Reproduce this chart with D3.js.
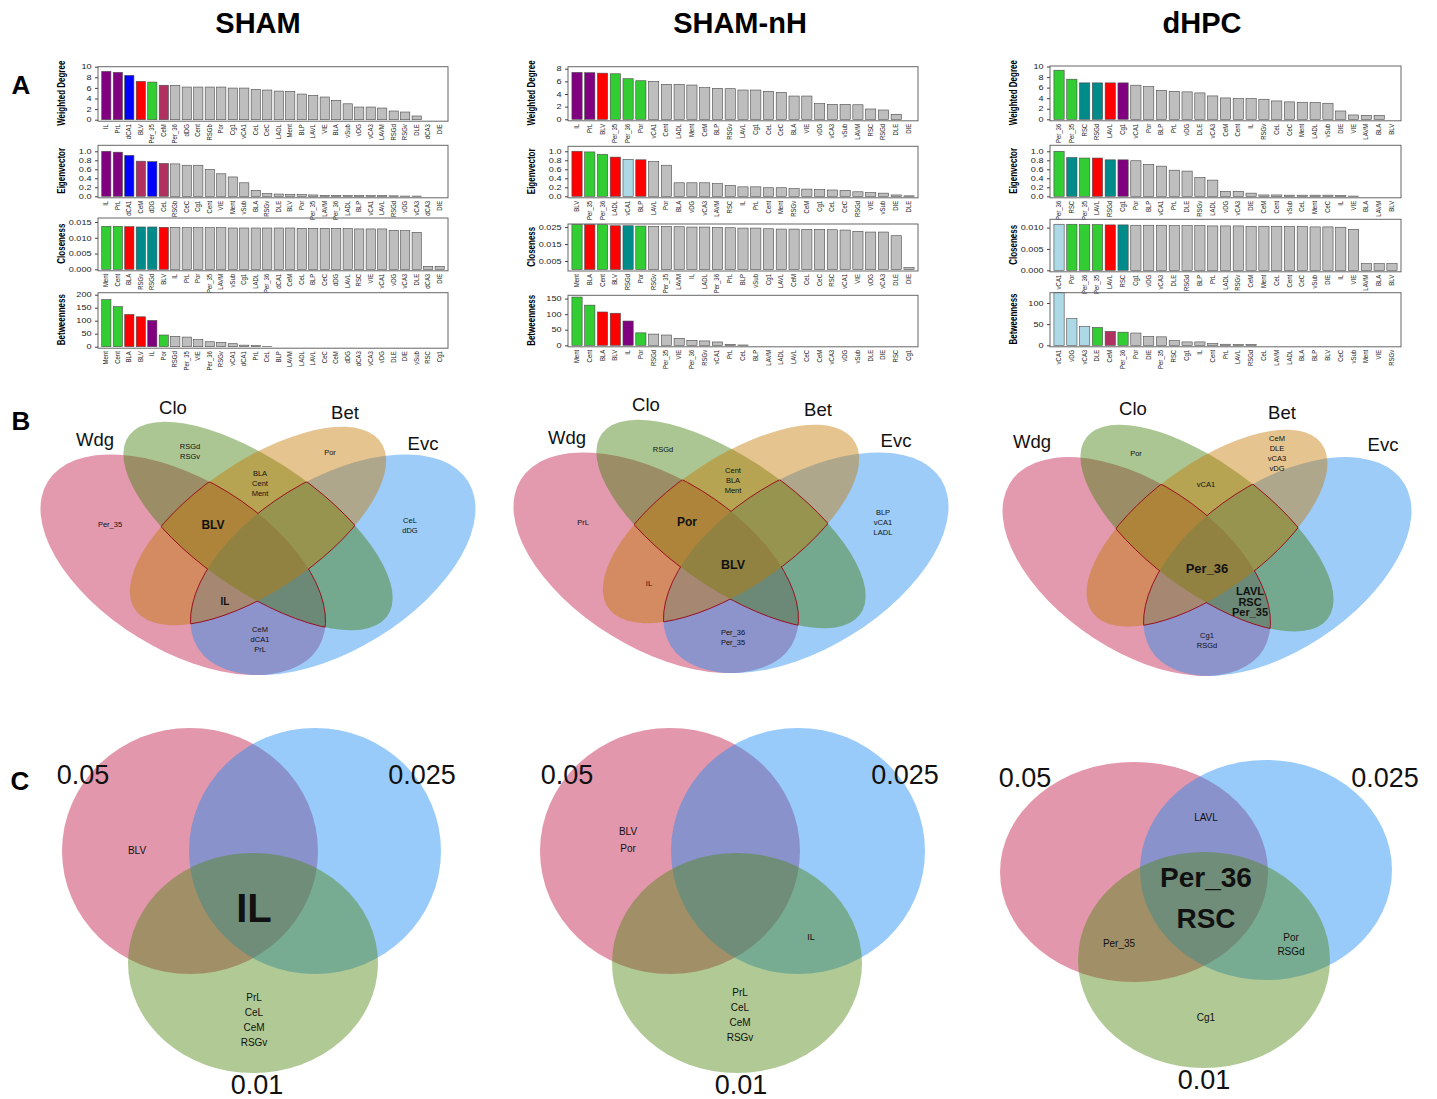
<!DOCTYPE html>
<html>
<head>
<meta charset="utf-8">
<script src="https://cdn.jsdelivr.net/npm/d3@7/dist/d3.min.js"></script>
<style>
  body { margin: 0; background: #fff; }
  svg { display: block; }
  text { font-family: "Liberation Sans", Arial, Helvetica, sans-serif; }
</style>
</head>
<body>
<svg id="figure"></svg>
<script>
// ---------- data: panel A bar charts ----------
// group codes: P purple, B blue, R red, G green, M maroon, T teal, L light blue (rest grey)
const shamWdLabels = ["IL","PrL","dCA1","BLV","Per_35","CeM","Per_36","dDG","Cent","RSGb","Por","Cg1","vCA1","CeL","CeC","LADL","Ment","BLP","LAVL","VIE","BLA","vSub","vDG","vCA3","LAVM","RSGd","RSGv","DLE","dCA3","DIE"];
const shamWdValues = [9.12,8.93,8.36,7.23,7.1,6.5,6.48,6.16,6.16,6.16,6.16,5.97,5.97,5.72,5.6,5.4,5.35,4.84,4.6,4.28,3.65,3.0,2.39,2.39,2.2,1.64,1.45,0.7,0,0];
const shamWdGroups = ["P","P","B","R","G","M"];

const shamEvLabels = ["IL","PrL","dCA1","CeM","dDG","CeL","RSGb","CeC","Cg1","Cent","VIE","Ment","vSub","BLA","RSGv","DLE","BLV","Por","Per_35","LAVM","Per_36","LADL","BLP","vCA1","LAVL","RSGd","vDG","vCA3","dCA3","DIE"];
const shamEvValues = [1.0,0.98,0.91,0.78,0.77,0.73,0.72,0.69,0.69,0.6,0.5,0.43,0.3,0.13,0.06,0.05,0.045,0.04,0.03,0.02,0.02,0.015,0.015,0.015,0.015,0.01,0.005,0.005,0,0];
const shamEvGroups = ["P","P","B","M","B","M"];

const shamClLabels = ["Ment","Cent","BLA","RSGv","RSGd","BLV","IL","PrL","Por","Per_35","LAVM","vSub","Cg1","LADL","Per_36","dCA1","CeM","CeL","BLP","CeC","dDG","LAVL","RSC","VIE","vCA1","vDG","vCA3","DLE","dCA3","DIE"];
const shamClValues = [0.01363,0.01363,0.01352,0.01342,0.01342,0.01331,0.01331,0.0132,0.0132,0.0132,0.0132,0.0131,0.0131,0.0131,0.0131,0.0131,0.0131,0.013,0.013,0.013,0.013,0.0129,0.0128,0.0128,0.0128,0.01236,0.01225,0.01173,0.00095,0.00095];
const shamClGroups = ["G","G","R","T","T","R"];

const shamBtLabels = ["Ment","Cent","BLA","BLV","IL","Por","RSGd","Per_35","VIE","Per_36","RSGv","vCA1","dCA1","PrL","CeL","BLP","LAVM","LADL","LAVL","CeC","CeM","dDG","dCA3","vCA3","vDG","DLE","DIE","vSub","RSC","Cg1"];
const shamBtValues = [181,154,124,115,101,45,40,37,27,19,17,11.5,6,4,1,0,0,0,0,0,0,0,0,0,0,0,0,0,0,0];
const shamBtGroups = ["G","G","R","R","P","G"];

const nhWdLabels = ["IL","PrL","BLV","Per_35","Per_36","Por","vCA1","Cent","LADL","Ment","CeM","BLP","RSGv","LAVL","Cg1","CeL","CeC","BLA","VIE","vDG","vCA3","vSub","LAVM","RSC","RSGd","DLE","DIE"];
const nhWdValues = [7.42,7.37,7.3,7.2,6.42,6.1,6.0,5.53,5.53,5.42,5.0,4.9,4.84,4.63,4.63,4.42,4.26,3.68,3.68,2.47,2.37,2.37,2.3,1.63,1.47,0.79,0];
const nhWdGroups = ["P","P","R","G","G","G"];

const nhEvLabels = ["BLV","Per_35","Per_36","LADL","vCA1","BLP","LAVL","Por","BLA","vDG","vCA3","LAVM","RSC","IL","PrL","Cent","Ment","RSGv","CeM","Cg1","CeL","CeC","RSGd","VIE","vSub","DIE","DLE"];
const nhEvValues = [1.0,0.985,0.93,0.87,0.82,0.81,0.77,0.69,0.3,0.3,0.3,0.28,0.24,0.21,0.21,0.19,0.19,0.17,0.16,0.15,0.14,0.13,0.1,0.08,0.07,0.03,0.01];
const nhEvGroups = ["R","G","G","R","L","R"];

const nhClLabels = ["Ment","BLA","Cent","BLV","RSGd","Por","RSGv","Per_35","LAVM","IL","LADL","Per_36","PrL","BLP","vSub","Cg1","LAVL","CeM","CeL","CeC","RSC","vCA1","VIE","vDG","vCA3","DLE","DIE"];
const nhClValues = [0.02657,0.02657,0.02637,0.02578,0.02578,0.02559,0.02539,0.02539,0.0252,0.025,0.025,0.0248,0.0246,0.0244,0.0244,0.024,0.0238,0.0238,0.02363,0.02363,0.02343,0.02323,0.02245,0.02206,0.02206,0.0199,0.0011];
const nhClGroups = ["G","R","G","R","T","G"];

const nhBtLabels = ["Ment","Cent","BLA","BLV","IL","Por","RSGd","Per_35","VIE","Per_36","RSGv","vCA1","PrL","CeL","BLP","LAVM","LADL","LAVL","CeC","CeM","vCA3","vDG","vSub","DLE","DIE","RSC","Cg1"];
const nhBtValues = [155,129,107,103,78,40,36,33,22.5,16,14,10.7,3,1,0,0,0,0,0,0,0,0,0,0,0,0,0];
const nhBtGroups = ["G","G","R","R","P","G"];

const dhWdLabels = ["Per_36","Per_35","RSC","RSGd","LAVL","Cg1","vCA1","Por","BLP","PrL","vDG","DLE","vCA3","CeM","Cent","IL","RSGv","CeL","CeC","Ment","LADL","vSub","DIE","VIE","LAVM","BLA","BLV"];
const dhWdValues = [9.3,7.6,6.9,6.9,6.9,6.9,6.46,6.2,5.5,5.3,5.2,5.0,4.43,4.05,3.92,3.92,3.8,3.48,3.3,3.23,3.16,3.04,1.58,0.82,0.76,0.76,0];
const dhWdGroups = ["G","G","T","T","R","P"];

const dhEvLabels = ["Per_36","RSC","Per_35","LAVL","RSGd","Cg1","Por","BLP","vCA1","PrL","DLE","RSGv","LADL","vDG","vCA3","DIE","CeM","Cent","vSub","CeL","Ment","CeC","IL","VIE","BLA","LAVM","BLV"];
const dhEvValues = [1.0,0.86,0.85,0.85,0.81,0.81,0.79,0.71,0.67,0.58,0.56,0.42,0.36,0.11,0.11,0.07,0.03,0.03,0.025,0.025,0.025,0.025,0.02,0.005,0,0,0];
const dhEvGroups = ["G","T","G","R","T","P"];

const dhClLabels = ["vCA1","Por","Per_36","Per_35","LAVL","RSC","Cg1","vDG","vCA3","DLE","RSGd","BLP","PrL","LADL","RSGv","CeM","Ment","CeL","Cent","CeC","vSub","DIE","IL","VIE","LAVM","BLA","BLV"];
const dhClValues = [0.01078,0.01078,0.0107,0.0107,0.01063,0.01063,0.01055,0.01055,0.01055,0.01047,0.01047,0.01047,0.01039,0.01039,0.01039,0.01031,0.01031,0.01031,0.01023,0.01023,0.01016,0.01016,0.01008,0.0096,0.00156,0.00156,0.00156];
const dhClGroups = ["L","G","G","G","R","T"];

const dhBtLabels = ["vCA1","vDG","vCA3","DLE","CeM","Per_36","Por","DIE","Per_35","RSC","Cg1","IL","Cent","PrL","LAVL","RSGd","CeL","LAVM","LADL","BLA","BLP","BLV","CeC","vSub","Ment","VIE","RSGv"];
const dhBtValues = [126,63,45,42,33,31,29,21,20,11,8,8,4,2.5,2,2,0,0,0,0,0,0,0,0,0,0,0];
const dhBtGroups = ["L","L","L","G","M","G"];

// ---------- data: panel B (4-set Venn) and C (3-set Venn) ----------
const groupTitles = ["SHAM","SHAM-nH","dHPC"];
const quadSets = ["Wdg","Clo","Bet","Evc"];
const shamQuadText = [["RSGd","RSGv"],["Por"],["BLA","Cent","Ment"],["Per_35"],["CeL","dDG"],["BLV"],["IL"],["CeM","dCA1","PrL"]];
const nhQuadText = [["RSGd"],["Cent","BLA","Ment"],["PrL"],["BLP","vCA1","LADL"],["Por"],["BLV"],["IL"],["Per_36","Per_35"]];
const dhQuadText = [["Por"],["CeM","DLE","vCA3","vDG"],["vCA1"],["Per_36"],["LAVL","RSC","Per_35"],["Cg1","RSGd"]];
const tripleSets = ["0.05","0.025","0.01"];
const shamTripleText = [["BLV"],["IL"],["PrL","CeL","CeM","RSGv"]];
const nhTripleText = [["BLV","Por"],["IL"],["PrL","CeL","CeM","RSGv"]];
const dhTripleText = [["LAVL"],["Per_36","RSC"],["Per_35"],["Por","RSGd"],["Cg1"]];

// ---------- layout & style ----------
const W = 1437, H = 1099;
const groupColor = {P:"#800080", B:"#0000ff", R:"#ff0000", G:"#32cd32", M:"#b03060", T:"#008b8b", L:"#add8e6"};
const greyBar = "#bebebe";
const cols = [{x0:98, x1:448, cx:258}, {x0:568, x1:918, cx:740}, {x0:1050, x1:1401, cx:1202}];
const rowTitles = ["Weighted Degree","Eigenvector","Closeness","Betweenness"];
const fInt = d3.format("d"), f1 = d3.format(".1f"), f3 = d3.format(".3f");

const charts = [
  {c:0,r:0,l:shamWdLabels,v:shamWdValues,g:shamWdGroups,top:66.7,base:119.7,ymax:10,ticks:[0,2,4,6,8,10],fmt:fInt},
  {c:0,r:1,l:shamEvLabels,v:shamEvValues,g:shamEvGroups,top:145.3,base:196.3,ymax:1.133,ticks:[0,.2,.4,.6,.8,1],fmt:f1},
  {c:0,r:2,l:shamClLabels,v:shamClValues,g:shamClGroups,top:218,base:269.3,ymax:0.01627,ticks:[0,.005,.01,.015],fmt:f3},
  {c:0,r:3,l:shamBtLabels,v:shamBtValues,g:shamBtGroups,top:292.7,base:346.7,ymax:207.7,ticks:[0,50,100,150,200],fmt:fInt},
  {c:1,r:0,l:nhWdLabels,v:nhWdValues,g:nhWdGroups,top:66.7,base:119.3,ymax:8.32,ticks:[0,2,4,6,8],fmt:fInt},
  {c:1,r:1,l:nhEvLabels,v:nhEvValues,g:nhEvGroups,top:146.3,base:196.3,ymax:1.11,ticks:[0,.2,.4,.6,.8,1],fmt:f1},
  {c:1,r:2,l:nhClLabels,v:nhClValues,g:nhClGroups,top:224,base:269.5,ymax:0.0268,ticks:[.005,.015,.025],fmt:f3},
  {c:1,r:3,l:nhBtLabels,v:nhBtValues,g:nhBtGroups,top:295.3,base:345.3,ymax:160.6,ticks:[0,50,100,150],fmt:fInt},
  {c:2,r:0,l:dhWdLabels,v:dhWdValues,g:dhWdGroups,top:66,base:119.3,ymax:10.1,ticks:[0,2,4,6,8,10],fmt:fInt},
  {c:2,r:1,l:dhEvLabels,v:dhEvValues,g:dhEvGroups,top:145.3,base:196.3,ymax:1.133,ticks:[0,.2,.4,.6,.8,1],fmt:f1},
  {c:2,r:2,l:dhClLabels,v:dhClValues,g:dhClGroups,top:219.3,base:270.3,ymax:0.01194,ticks:[0,.005,.01],fmt:f3},
  {c:2,r:3,l:dhBtLabels,v:dhBtValues,g:dhBtGroups,top:292.7,base:345.3,ymax:124.3,ticks:[0,50,100],fmt:fInt}
];

const svg = d3.select("#figure").attr("width", W).attr("height", H)
  .attr("viewBox", `0 0 ${W} ${H}`);
svg.append("rect").attr("width", W).attr("height", H).attr("fill", "#fff");
const defs = svg.append("defs");

// titles and panel letters
groupTitles.forEach((t, i) => {
  svg.append("text").attr("x", cols[i].cx).attr("y", 33).attr("text-anchor", "middle")
    .style("font-size", "29px").style("font-weight", "bold").text(t);
});
[["A", 21, 94], ["B", 21, 430], ["C", 20, 790]].forEach(([t, x, y]) => {
  svg.append("text").attr("x", x).attr("y", y).attr("text-anchor", "middle")
    .style("font-size", "26px").style("font-weight", "bold").text(t);
});

// ---------- panel A ----------
charts.forEach(ch => {
  const col = cols[ch.c];
  const g = svg.append("g");
  const x = d3.scaleBand().domain(d3.range(ch.l.length))
    .range([col.x0 + 2, col.x1 - 2]).paddingInner(0.2).paddingOuter(0.15);
  const y = d3.scaleLinear().domain([0, ch.ymax]).range([ch.base, ch.top]).clamp(true);
  const boxBottom = ch.base + 1.5;

  g.selectAll("rect.bar").data(ch.v).join("rect").attr("class", "bar")
    .attr("x", (d, i) => x(i)).attr("width", x.bandwidth())
    .attr("y", d => y(d)).attr("height", d => Math.max(0, ch.base - y(d)))
    .attr("fill", (d, i) => ch.g[i] ? groupColor[ch.g[i]] : greyBar)
    .attr("stroke", "#4a4a4a").attr("stroke-width", 0.6);

  g.append("rect").attr("x", col.x0).attr("y", ch.top)
    .attr("width", col.x1 - col.x0).attr("height", boxBottom - ch.top)
    .attr("fill", "none").attr("stroke", "#666").attr("stroke-width", 1);

  const ax = g.append("g").attr("transform", `translate(${col.x0},0)`)
    .call(d3.axisLeft(y).tickValues(ch.ticks).tickFormat(ch.fmt).tickSize(3).tickPadding(2));
  ax.select(".domain").remove();
  ax.selectAll("line").attr("stroke", "#444");
  ax.selectAll("text").style("font-size", "7px").attr("fill", "#222")
    .attr("transform", "scale(1.3,1)");

  g.selectAll("text.xl").data(ch.l).join("text").attr("class", "xl")
    .attr("transform", (d, i) => `translate(${x(i) + x.bandwidth() / 2 + 2},${boxBottom + 3}) rotate(-90) scale(1,1.3)`)
    .attr("text-anchor", "end").style("font-size", "6px").attr("fill", "#222").text(d => d);

  g.append("text")
    .attr("transform", `translate(${col.x0 - 33},${(ch.top + ch.base) / 2}) rotate(-90) scale(1,1.35)`)
    .attr("text-anchor", "middle").style("font-size", "8px").style("font-weight", "bold")
    .text(rowTitles[ch.r]);
});

// ---------- panel B: four-set ellipse Venn ----------
const quadEllipses = [ // unit coords (y up): Wdg, Clo, Bet, Evc
  {cx:0.35, cy:0.47, a:0.35, b:0.20, rot:135},
  {cx:0.50, cy:0.57, a:0.35, b:0.15, rot:135},
  {cx:0.50, cy:0.57, a:0.33, b:0.15, rot:45},
  {cx:0.65, cy:0.47, a:0.35, b:0.20, rot:45}
];
const quadFill = ["#c01848", "#3f7d08", "#c47800", "#1f8af0"];
const quadOpacity = 0.44;
const quadDrawOrder = [0, 3, 1, 2];
const quadFrames = [
  {x0:8, sx:500, yb:746.6, sy:387},
  {x0:481, sx:500, yb:744.6, sy:387},
  {x0:972, sx:470, yb:747, sy:384}
];
const quadSetPos = [
  [[95,440],[173,408],[345,413],[423,444]],
  [[567,438],[646,405],[818,410],[896,441]],
  [[1032,442],[1133,409],[1282,413],[1383,445]]
];
// [x, y, fontSize, bold, lineHeight]
const quadTextPos = [
  [[190,451,7.5,0,10],[330,452,7.5,0,10],[260,483,7.5,0,10],[110,524,7.5,0,10],[410,525,7.5,0,10],[213,525,12,1,12],[225,601,10,1,10],[260,639,7.5,0,10]],
  [[663,449,7.5,0,10],[733,480,7.5,0,10],[583,522,7.5,0,10],[883,522,7.5,0,10],[687,522,12,1,12],[733,565,12.5,1,12],[649,583,7.5,0,10],[733,637,7.5,0,10]],
  [[1136,453,7.5,0,10],[1277,453,7.5,0,10],[1206,484,7.5,0,10],[1207,568,13,1,13],[1250,602,11,1,10.5],[1207,640,7.5,0,10]]
];
const quadTexts = [shamQuadText, nhQuadText, dhQuadText];

const ellT = (f, e) => `translate(${f.x0 + f.sx * e.cx},${f.yb - f.sy * e.cy}) scale(${f.sx},${-f.sy}) rotate(${e.rot})`;
const addEll = (sel, f, e) => sel.append("ellipse").attr("rx", e.a).attr("ry", e.b).attr("transform", ellT(f, e));

function drawLines(g, lines, x, y, fs, bold, lh) {
  const n = lines.length;
  lines.forEach((s, i) => {
    g.append("text").attr("x", x).attr("y", y + (i - (n - 1) / 2) * lh).attr("dy", "0.35em")
      .attr("text-anchor", "middle").style("font-size", fs + "px")
      .style("font-weight", bold ? "bold" : "normal").attr("fill", "#111").text(s);
  });
}

quadFrames.forEach((f, k) => {
  const g = svg.append("g");
  quadDrawOrder.forEach(i => {
    addEll(g, f, quadEllipses[i]).attr("fill", quadFill[i]).attr("fill-opacity", quadOpacity);
  });
  quadEllipses.forEach((e, i) => addEll(defs.append("clipPath").attr("id", `qc${k}_${i}`), f, e));
  // outline of the region covered by three or more sets:
  // the part of ellipse i's border where exactly two of the other ellipses overlap
  quadEllipses.forEach((e, i) => {
    const others = [0, 1, 2, 3].filter(j => j !== i);
    others.forEach(l => {
      const [j, m] = others.filter(o => o !== l);
      const id = `qm${k}_${i}_${l}`;
      const mk = defs.append("mask").attr("id", id).attr("maskUnits", "userSpaceOnUse")
        .attr("x", 0).attr("y", 0).attr("width", W).attr("height", H);
      const mg = mk.append("g").attr("clip-path", `url(#qc${k}_${j})`);
      addEll(mg, f, quadEllipses[m]).attr("fill", "#fff");
      addEll(mg, f, quadEllipses[l]).attr("fill", "#000");
      const wrap = g.append("g").attr("mask", `url(#${id})`);
      addEll(wrap, f, e).attr("fill", "none").attr("stroke", "#9a1020").attr("stroke-width", 1)
        .attr("vector-effect", "non-scaling-stroke");
    });
  });
  quadSets.forEach((s, i) => {
    const [x, y] = quadSetPos[k][i];
    drawLines(g, [s], x, y, 18.5, 0, 0);
  });
  quadTexts[k].forEach((lines, i) => {
    const [x, y, fs, bold, lh] = quadTextPos[k][i];
    drawLines(g, lines, x, y, fs, bold, lh);
  });
});

// ---------- panel C: three-set Venn ----------
const triFill = ["#c01848", "#1d8cf4", "#4f8714"];
const triOpacity = 0.45;
const triCircles = [
  [[190,851,128,123],[315,851,126,123],[253,963,125,110]],
  [[670,851,130,123],[798,851,127,123],[737,963,125,110]],
  [[1134,872,134,110],[1266,870,126,110],[1204,960,126,108]]
];
const triSetPos = [
  [[83,775],[422,775],[257,1085]],
  [[567,775],[905,775],[741,1085]],
  [[1025,778],[1385,778],[1204,1080]]
];
const triTextPos = [
  [[137,850,10,0,15],[254,908,40,1,40],[254,1020,10,0,15]],
  [[628,840,10,0,17],[811,937,9,0,12],[740,1015,10,0,15]],
  [[1206,817,10,0,14],[1206,898,28,1,41],[1119,943,10,0,14],[1291,944,10,0,14],[1206,1017,10,0,14]]
];
const triTexts = [shamTripleText, nhTripleText, dhTripleText];

triCircles.forEach((circ, k) => {
  const g = svg.append("g");
  circ.forEach(([cx, cy, rx, ry], i) => {
    g.append("ellipse").attr("cx", cx).attr("cy", cy).attr("rx", rx).attr("ry", ry)
      .attr("fill", triFill[i]).attr("fill-opacity", triOpacity);
  });
  tripleSets.forEach((s, i) => {
    const [x, y] = triSetPos[k][i];
    drawLines(g, [s], x, y, 27, 0, 0);
  });
  triTexts[k].forEach((lines, i) => {
    const [x, y, fs, bold, lh] = triTextPos[k][i];
    drawLines(g, lines, x, y, fs, bold, lh);
  });
});
</script>
</body>
</html>
